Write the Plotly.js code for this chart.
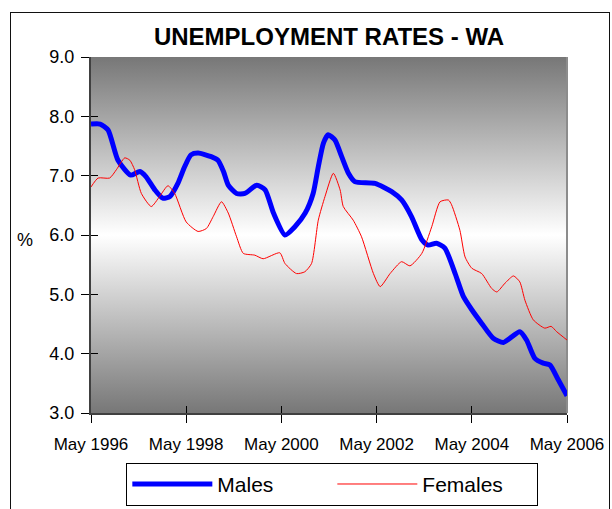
<!DOCTYPE html>
<html>
<head>
<meta charset="utf-8">
<script src="https://cdn.plot.ly/plotly-3.0.1.min.js"></script>
<style>
  html, body { margin: 0; padding: 0; background: #fff; }
  #wrap { position: relative; width: 612px; height: 509px; overflow: hidden; }
  #chart { position: absolute; left: 0; top: 0; width: 612px; height: 509px; }
  #frame { position: absolute; left: 10px; top: 12px; width: 598px; height: 520px;
           border: 1.5px solid #111; pointer-events: none; }
</style>
</head>
<body>
<div id="wrap">
  <div id="chart"></div>
  <div id="frame"></div>
</div>
<script>
// Months since May 1996 and unemployment rates (%)
const maleMonth = [0,2.3,4.3,6.8,10,12.3,13.9,16.1,18.1,19.9,21.9,23.6,25.2,27,30.3,32,33.4,34.6,36.7,38.8,41.8,43.9,46,48.9,51.4,54,56,57.3,58.6,59.8,61.5,63.2,64.9,66.5,71.6,75.8,78.3,80.8,83.4,85,87.1,89.2,91.8,93.9,96,98.5,101.4,104,108.1,109.8,111.9,114,115.7,117.8,120];
const maleRate = [7.87,7.87,7.77,7.26,7.01,7.07,6.98,6.76,6.62,6.65,6.87,7.15,7.35,7.38,7.32,7.26,7.07,6.84,6.70,6.70,6.84,6.76,6.37,6.00,6.14,6.37,6.70,7.15,7.55,7.69,7.60,7.32,7.04,6.90,6.87,6.73,6.59,6.31,5.92,5.83,5.86,5.78,5.35,4.96,4.74,4.51,4.26,4.19,4.37,4.23,3.92,3.84,3.81,3.56,3.29];

const femMonth = [0,1.8,4.7,6.4,8.5,9.8,11,12.7,15.2,17.3,19.4,21.1,24,27,29.1,30.8,32.9,34.6,36.7,38.4,41.3,43.4,47.6,48.9,51.8,53.9,55.6,57.3,59,61.1,62.8,63.6,66.1,68.2,71.2,72.9,75.4,78.3,80.4,83.4,85.9,88,90.1,90.9,93,94.3,96,98.5,101,102.3,104.4,106.5,108.1,109.4,111.5,114.4,116,117.4,120];
const femRate = [6.81,6.96,6.96,7.10,7.30,7.26,7.10,6.70,6.48,6.65,6.83,6.70,6.22,6.06,6.11,6.31,6.56,6.37,5.97,5.69,5.66,5.60,5.70,5.52,5.35,5.38,5.52,6.25,6.65,7.04,6.76,6.48,6.25,5.97,5.35,5.13,5.35,5.55,5.48,5.69,6.14,6.56,6.59,6.51,6.08,5.63,5.44,5.35,5.10,5.04,5.19,5.31,5.21,4.90,4.57,4.43,4.46,4.37,4.23];

const xTickVals = [0,24,48,72,96,120];
const xTickText = ['May 1996','May 1998','May 2000','May 2002','May 2004','May 2006'];
const yTickVals = [3,4,5,6,7,8,9];
const yTickText = ['3.0','4.0','5.0','6.0','7.0','8.0','9.0'];

const gradSvg = '<svg xmlns="http://www.w3.org/2000/svg" width="100" height="100" preserveAspectRatio="none">' +
  '<defs><linearGradient id="g" x1="0" y1="0" x2="0" y2="1">' +
  '<stop offset="0" stop-color="#777777"/><stop offset="0.5" stop-color="#ffffff"/><stop offset="1" stop-color="#777777"/>' +
  '</linearGradient></defs><rect width="100" height="100" fill="url(#g)"/></svg>';
const gradUri = 'data:image/svg+xml;charset=utf-8,' + encodeURIComponent(gradSvg);

const FONT = 'Arial, "Liberation Sans", sans-serif';

const traces = [
  { x: maleMonth, y: maleRate, name: 'Males', type: 'scatter', mode: 'lines',
    line: { color: '#0000ff', width: 5, shape: 'spline', smoothing: 0.6 } },
  { x: femMonth, y: femRate, name: 'Females', type: 'scatter', mode: 'lines', xaxis: 'x2', yaxis: 'y2',
    line: { color: '#ff0000', width: 1, shape: 'spline', smoothing: 0.6 } }
];

const layout = {
  width: 612, height: 509,
  margin: { l: 91, r: 45, t: 57, b: 96, autoexpand: false },
  paper_bgcolor: 'rgba(0,0,0,0)',
  plot_bgcolor: '#ffffff',
  font: { family: FONT, color: '#000' },
  title: { text: 'UNEMPLOYMENT RATES - WA', font: { family: FONT, size: 24, weight: 'bold', color: '#000' },
           x: 0.5, xref: 'paper', xanchor: 'center', y: 0.929, yref: 'container', yanchor: 'middle' },
  showlegend: true,
  legend: { orientation: 'h', x: 0.507, xanchor: 'center', y: -0.140, yanchor: 'top',
            xref: 'paper', yref: 'paper', itemwidth: 80,
            bordercolor: '#000', borderwidth: 1, bgcolor: '#fff',
            font: { family: FONT, size: 21, color: '#000' }, entrywidth: 110 },
  xaxis: { range: [0, 120], tickvals: xTickVals, ticktext: xTickText, showgrid: false, zeroline: false,
           showline: true, linecolor: '#404040', linewidth: 2, ticks: 'outside', ticklen: 8,
           tickcolor: '#000', tickwidth: 1, ticklabelstandoff: 7,
           tickfont: { family: FONT, size: 17, color: '#000' } },
  yaxis: { range: [3, 9], tickvals: yTickVals, ticktext: yTickText, showgrid: false, zeroline: false,
           showline: true, linecolor: '#404040', linewidth: 2, ticks: 'outside', ticklen: 8,
           tickcolor: '#000', tickwidth: 1, ticklabelstandoff: 3,
           tickfont: { family: FONT, size: 18, color: '#000' } },
  xaxis2: { overlaying: 'x', range: [0, 120], tickvals: xTickVals, showticklabels: false, showgrid: false,
            zeroline: false, ticks: 'inside', ticklen: 7, tickcolor: '#000', tickwidth: 1, side: 'bottom' },
  yaxis2: { overlaying: 'y', range: [3, 9], tickvals: yTickVals, showticklabels: false, showgrid: false,
            zeroline: false, ticks: 'inside', ticklen: 7, tickcolor: '#000', tickwidth: 1, side: 'left' },
  images: [{ source: gradUri, xref: 'paper', yref: 'paper', x: 0, y: 1, sizex: 1, sizey: 1,
             sizing: 'stretch', xanchor: 'left', yanchor: 'top', layer: 'below' }],
  shapes: [{ type: 'line', xref: 'paper', yref: 'paper', x0: 1, x1: 1, y0: 0, y1: 1,
             line: { color: '#8c8c8c', width: 2 }, layer: 'below' }],
  annotations: [{ text: '%', xref: 'paper', yref: 'paper', x: -0.139, y: 0.486, showarrow: false,
                  font: { family: FONT, size: 18, color: '#000' }, xanchor: 'center', yanchor: 'middle' }]
};

Plotly.newPlot('chart', traces, layout, { staticPlot: true, displayModeBar: false });
</script>
</body>
</html>
